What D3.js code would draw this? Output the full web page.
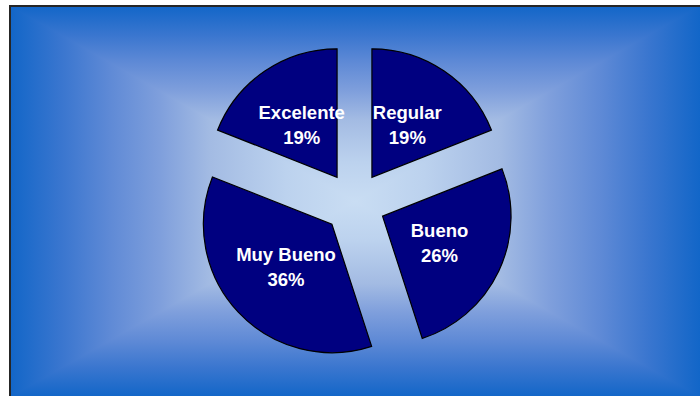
<!DOCTYPE html>
<html>
<head>
<meta charset="utf-8">
<script src="https://cdn.jsdelivr.net/npm/d3@7"></script>
<style>
  html, body { margin: 0; padding: 0; background: #ffffff; }
  svg { display: block; }
</style>
</head>
<body>
<svg id="chart" width="700" height="396"></svg>
<script>
// Survey results: rating categories and their shares (%)
const categories = ["Regular", "Bueno", "Muy Bueno", "Excelente"];
const values = [19, 26, 36, 19];
const percentLabels = ["19%", "26%", "36%", "19%"];

const svg = d3.select("#chart");

// Plot area with a rectangular "from centre" gradient
const area = { x0: 10, y0: 6, x1: 700, y1: 397 };
const cxBg = (area.x0 + area.x1) / 2, cyBg = (area.y0 + area.y1) / 2;
// colour ramp from the edge (0) to the centre (1)
const ramp = [
  [0.00, "#1266c8"],
  [0.15, "#3a76cf"],
  [0.29, "#5f8ad6"],
  [0.435, "#7f9fdc"],
  [0.58, "#a3bbe3"],
  [0.80, "#bcd2ee"],
  [1.00, "#c9ddf3"]
];

const defs = svg.append("defs");
function gradient(id, from, to) {
  const g = defs.append("linearGradient")
    .attr("id", id)
    .attr("gradientUnits", "userSpaceOnUse")
    .attr("x1", from[0]).attr("y1", from[1])
    .attr("x2", to[0]).attr("y2", to[1]);
  ramp.forEach(([o, c]) => g.append("stop").attr("offset", o).attr("stop-color", c));
}
gradient("gLeft", [area.x0, cyBg], [cxBg, cyBg]);
gradient("gRight", [area.x1, cyBg], [cxBg, cyBg]);
gradient("gTop", [cxBg, area.y0], [cxBg, cyBg]);
gradient("gBottom", [cxBg, area.y1], [cxBg, cyBg]);

const bg = svg.append("g");
// left and right halves underneath, top and bottom wedges over them
bg.append("rect").attr("x", area.x0).attr("y", area.y0)
  .attr("width", cxBg - area.x0 + 0.5).attr("height", area.y1 - area.y0)
  .attr("fill", "url(#gLeft)");
bg.append("rect").attr("x", cxBg - 0.5).attr("y", area.y0)
  .attr("width", area.x1 - cxBg + 0.5).attr("height", area.y1 - area.y0)
  .attr("fill", "url(#gRight)");
const tri = pts => "M" + pts.map(p => p.join(",")).join("L") + "Z";
bg.append("path")
  .attr("d", tri([[area.x0, area.y0], [area.x1, area.y0], [cxBg, cyBg]]))
  .attr("fill", "url(#gTop)");
bg.append("path")
  .attr("d", tri([[area.x0, area.y1], [area.x1, area.y1], [cxBg, cyBg]]))
  .attr("fill", "url(#gBottom)");

// frame (left and top edges fall inside the view)
svg.append("path")
  .attr("d", `M${area.x0},${area.y1 + 2}L${area.x0},${area.y0}L${area.x1 + 2},${area.y0}`)
  .attr("fill", "none")
  .attr("stroke", "#262626")
  .attr("stroke-width", 2);

// Exploded pie
const cx = 354.5, cy = 203, radius = 128.5, explode = 31;
const pie = d3.pie().sort(null).value(d => d);
const arcs = pie(values);
const arc = d3.arc().innerRadius(0).outerRadius(radius);
const mid = d => (d.startAngle + d.endAngle) / 2;

const slices = svg.append("g").attr("transform", `translate(${cx},${cy})`);
const slice = slices.selectAll("g.slice")
  .data(arcs)
  .join("g")
  .attr("class", "slice")
  .attr("transform", d => `translate(${Math.sin(mid(d)) * explode},${-Math.cos(mid(d)) * explode})`);

slice.append("path")
  .attr("d", arc)
  .attr("fill", "#000080")
  .attr("stroke", "#000000")
  .attr("stroke-width", 1.2);

const labelR = radius * 0.49;
const text = slice.append("text")
  .attr("text-anchor", "middle")
  .attr("font-family", "'Liberation Sans', Arial, sans-serif")
  .attr("font-weight", "bold")
  .attr("font-size", 18.5)
  .attr("fill", "#ffffff");
text.append("tspan")
  .attr("x", d => Math.sin(mid(d)) * labelR)
  .attr("y", d => -Math.cos(mid(d)) * labelR - 6)
  .text((d, i) => categories[i]);
text.append("tspan")
  .attr("x", d => Math.sin(mid(d)) * labelR)
  .attr("y", d => -Math.cos(mid(d)) * labelR + 19)
  .text((d, i) => percentLabels[i]);
</script>
</body>
</html>
